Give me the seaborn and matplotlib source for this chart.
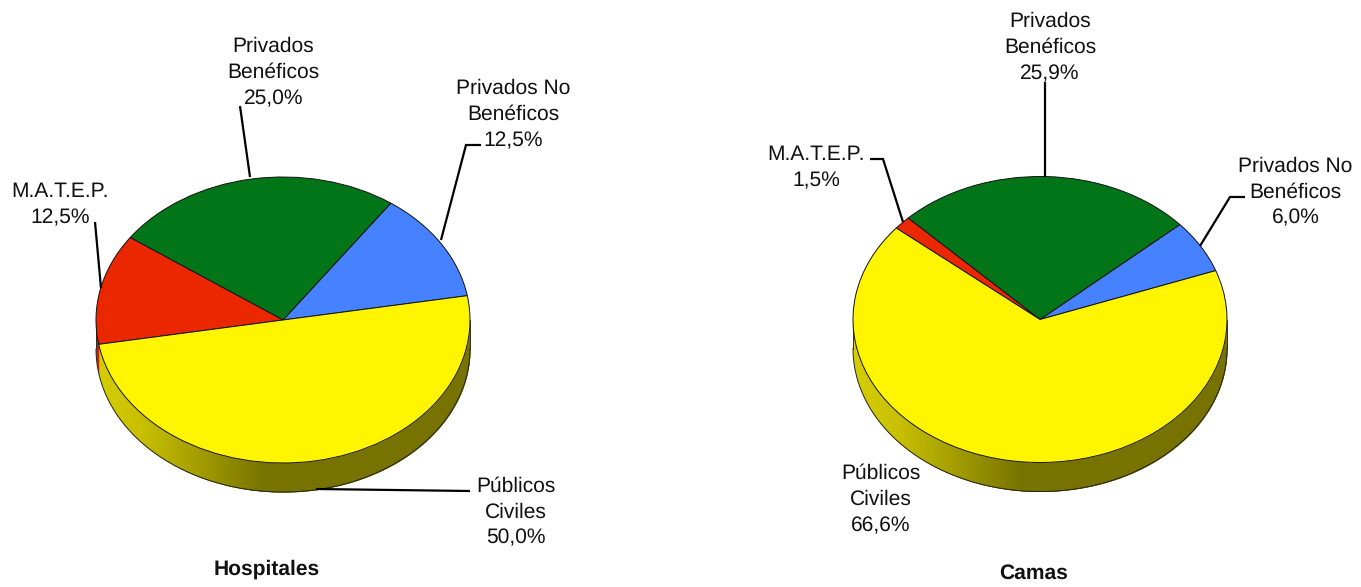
import numpy as np
import matplotlib
matplotlib.use("Agg")
import matplotlib.pyplot as plt
from matplotlib.lines import Line2D
from matplotlib.colors import to_rgb
import seaborn as sns

# ---------- data ----------
categories = ["Privados No Beneficos", "Privados Beneficos", "M.A.T.E.P.", "Publicos Civiles"]
hospitales = [12.5, 25.0, 12.5, 50.0]
camas = [6.0, 25.9, 1.5, 66.6]
labels_hosp = ["Privados No\nBenéficos\n12,5%", "Privados\nBenéficos\n25,0%", "M.A.T.E.P.\n12,5%", "Públicos\nCiviles\n50,0%"]
labels_camas = ["Privados No\nBenéficos\n6,0%", "Privados\nBenéficos\n25,9%", "M.A.T.E.P.\n1,5%", "Públicos\nCiviles\n66,6%"]
palette = ["#4682FF", "#037519", "#EB2700", "#FFF500"]

# ---------- layout (pixels) ----------
W, H = 1361, 587
FS = 15.4
FONT = "Liberation Sans"

sns.set_theme(style="white")
plt.rcParams["font.family"] = [FONT, "DejaVu Sans"]
plt.rcParams["text.hinting"] = "no_hinting"
plt.rcParams["text.hinting_factor"] = 1
fig = plt.figure(figsize=(W / 100, H / 100), dpi=100, facecolor="white")


def shade(x):
    """Side-wall brightness across the pie: lit at the left, dark from the middle on."""
    return np.interp(x, [-1.0, -0.75, -0.1, 1.0], [0.84, 0.78, 0.47, 0.47])


def pie3d(values, start, cx, cy, rx, ry, depth):
    m = 0.02
    dn = depth / ry
    ax = fig.add_axes([
        (cx - rx * (1 + m)) / W,
        1 - (cy + ry * (1 + dn + m)) / H,
        2 * rx * (1 + m) / W,
        ry * (2 + dn + 2 * m) / H,
    ])
    ax.pie(values, colors=palette, startangle=start, counterclock=True, radius=1,
           wedgeprops=dict(edgecolor="#111111", linewidth=0.7, zorder=5))
    ax.set_aspect("auto")
    ax.set_xlim(-1 - m, 1 + m)
    ax.set_ylim(-1 - dn - m, 1 + m)
    ax.axis("off")

    bounds = start + np.cumsum([0] + list(values)) * 3.6
    edges = np.arange(180, 360.01, 0.5)
    for a, b in zip(edges[:-1], edges[1:]):
        mid = (a + b) / 2
        k = np.searchsorted(bounds, mid) - 1
        if k < 0:
            k = np.searchsorted(bounds, mid + 360) - 1
        k = min(k, len(values) - 1)
        # each strip overlaps the next so no seams show between them
        t = np.radians(np.linspace(a, min(b + 1.0, 360), 4))
        x = np.cos(t)
        y = np.sin(t)
        col = np.array(to_rgb(palette[k])) * shade(np.cos(np.radians(mid)))
        ax.fill_between(x, y - dn, y, color=col, linewidth=0, zorder=2)
    t = np.radians(np.linspace(180, 360, 240))
    ax.plot(np.cos(t), np.sin(t) - dn, color="#222222", lw=0.7, zorder=3)
    ax.plot([-1, -1], [0, -dn], color="#222222", lw=0.6, zorder=3)
    ax.plot([1, 1], [0, -dn], color="#222222", lw=0.6, zorder=3)
    return ax


def label(txt, x, y, **kw):
    fig.text(x / W, 1 - y / H, txt, ha="center", va="center", ma="center",
             fontsize=FS, color="#111111", linespacing=1.42, **kw)


def leader(xs, ys):
    fig.add_artist(Line2D(np.array(xs) / W, 1 - np.array(ys) / H, color="black",
                          lw=1.6, zorder=10, solid_capstyle="butt", solid_joinstyle="miter"))


pie3d(hospitales, 9.8, 283, 320, 187, 143, 29)
pie3d(camas, 20.0, 1040, 319.5, 187, 143, 29)

# Hospitales labels
for txt, (x, y) in zip(labels_hosp, [(513, 114.5), (273.5, 72.5), (60.5, 205), (515.5, 512)]):
    label(txt, x, y)
# Camas labels
for txt, (x, y) in zip(labels_camas, [(1295.5, 192), (1050, 47.5), (816.5, 168), (880.5, 499.5)]):
    label(txt, x, y)

label("Hospitales", 267, 569.5, fontweight="bold")
label("Camas", 1033.5, 573, fontweight="bold")

leader([240, 250], [106, 177])
leader([481, 466, 441], [145, 145, 240])
leader([95, 101], [222, 288])
leader([470, 316], [491, 489])
leader([1045, 1045], [82, 177])
leader([1245, 1230, 1200], [197, 197, 246])
leader([870, 883, 903], [159, 159, 222])

fig.savefig("out.png", dpi=100, facecolor="white")
